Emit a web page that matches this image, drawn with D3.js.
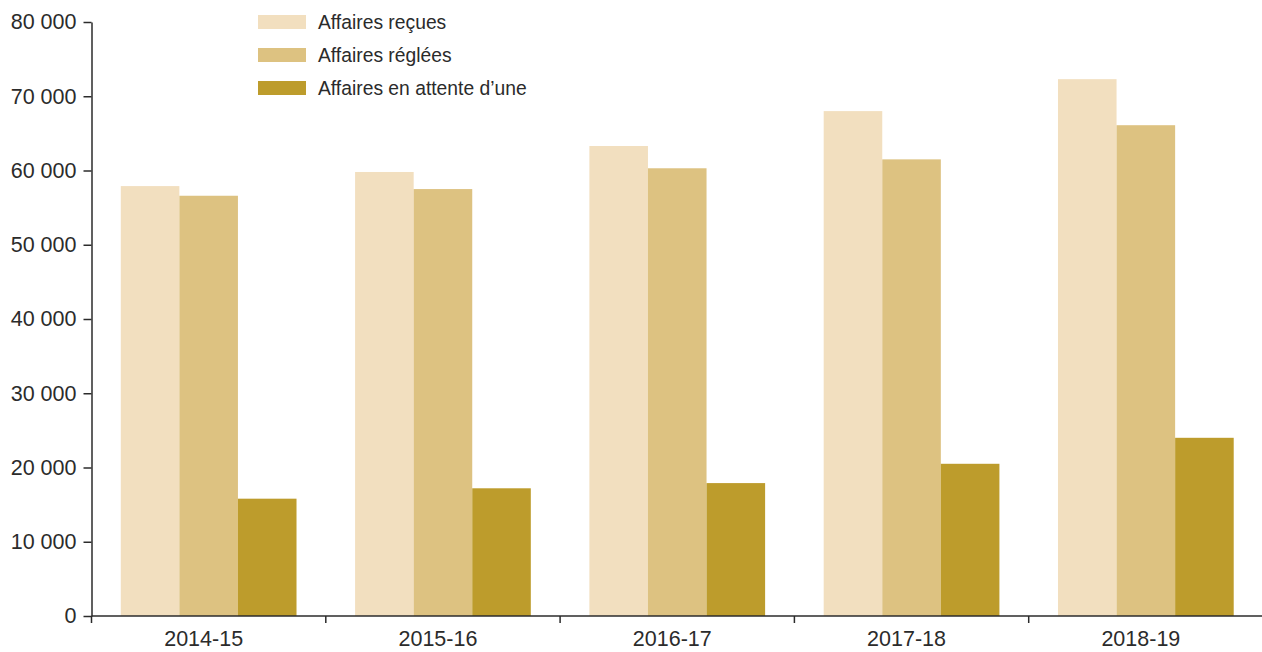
<!DOCTYPE html>
<html>
<head>
<meta charset="utf-8">
<script src="https://cdn.jsdelivr.net/npm/d3@7"></script>
<style>
  body { margin: 0; background: #fff; }
  svg text { font-family: "Liberation Sans", Arial, sans-serif; fill: #2b2b2b; }
  .axis path, .axis line { stroke: #2b2b2b; stroke-width: 1.5; }
</style>
</head>
<body>
<div id="chart"></div>
<script>
// years and the three series (number of cases)
var years = ["2014-15", "2015-16", "2016-17", "2017-18", "2018-19"];
var series = ["Affaires reçues", "Affaires réglées", "Affaires en attente d’une"];
var recues = [57900, 59800, 63300, 68000, 72300];
var reglees = [56600, 57500, 60300, 61500, 66100];
var attente = [15800, 17200, 17900, 20500, 24000];
var yTicks = [0, 10000, 20000, 30000, 40000, 50000, 60000, 70000, 80000];
var colors = ["#f2dfbf", "#ddc281", "#bd9c2c"];

var width = 1262, height = 652;
var margin = { top: 22, right: -1, bottom: 36, left: 91.5 };

var svg = d3.select("#chart").append("svg")
    .attr("width", width)
    .attr("height", height);

var x = d3.scaleBand()
    .domain(years)
    .range([margin.left, width - margin.right])
    .paddingInner(0)
    .paddingOuter(0);

var inner = d3.scaleBand()
    .domain(d3.range(series.length))
    .range([0, x.bandwidth()])
    .paddingOuter(0.5);

var y = d3.scaleLinear()
    .domain([0, 80000])
    .range([height - margin.bottom, margin.top]);

var fmt = function (d) { return d3.format(",")(d).replace(/,/g, " "); };

// rows for the bars, built from the arrays above
var rows = years.map(function (yr, i) {
    return { year: yr, values: [recues[i], reglees[i], attente[i]] };
});

var groups = svg.append("g").selectAll("g")
    .data(rows)
    .enter().append("g")
    .attr("transform", function (d) { return "translate(" + x(d.year) + ",0)"; });

groups.selectAll("rect")
    .data(function (d) { return d.values.map(function (v, k) { return { k: k, v: v }; }); })
    .enter().append("rect")
    .attr("x", function (d) { return inner(d.k); })
    .attr("width", inner.bandwidth())
    .attr("y", function (d) { return y(d.v); })
    .attr("height", function (d) { return y(0) - y(d.v); })
    .attr("fill", function (d) { return colors[d.k]; });

// y axis
svg.append("g")
    .attr("class", "axis")
    .attr("transform", "translate(" + margin.left + ",0)")
    .call(d3.axisLeft(y).tickValues(yTicks).tickFormat(fmt).tickSize(8).tickPadding(7).tickSizeOuter(0))
    .call(function (g) { g.selectAll("text").style("font-size", "21.5px").attr("fill", "#2b2b2b"); });

// x axis: ticks on band edges, labels in band centres
var xAxis = svg.append("g")
    .attr("class", "axis")
    .attr("transform", "translate(0," + y(0) + ")");
xAxis.append("line")
    .attr("x1", margin.left).attr("x2", width)
    .attr("y1", 0).attr("y2", 0);
xAxis.selectAll(".edge")
    .data(years)
    .enter().append("line")
    .attr("class", "edge")
    .attr("x1", function (d) { return x(d); })
    .attr("x2", function (d) { return x(d); })
    .attr("y1", 0).attr("y2", 7);
xAxis.selectAll("text")
    .data(years)
    .enter().append("text")
    .attr("x", function (d) { return x(d) + x.bandwidth() / 2 - 5; })
    .attr("y", 30)
    .attr("text-anchor", "middle")
    .style("font-size", "21.5px")
    .text(function (d) { return d; });

// legend
var legend = svg.append("g")
    .attr("transform", "translate(258,15)");
var item = legend.selectAll("g")
    .data(series)
    .enter().append("g")
    .attr("transform", function (d, i) { return "translate(0," + (i * 33) + ")"; });
item.append("rect")
    .attr("width", 48)
    .attr("height", 14)
    .attr("fill", function (d, i) { return colors[i]; });
item.append("text")
    .attr("x", 60)
    .attr("y", 7)
    .attr("dy", "0.35em")
    .style("font-size", "19.3px")
    .text(function (d) { return d; });
</script>
</body>
</html>
